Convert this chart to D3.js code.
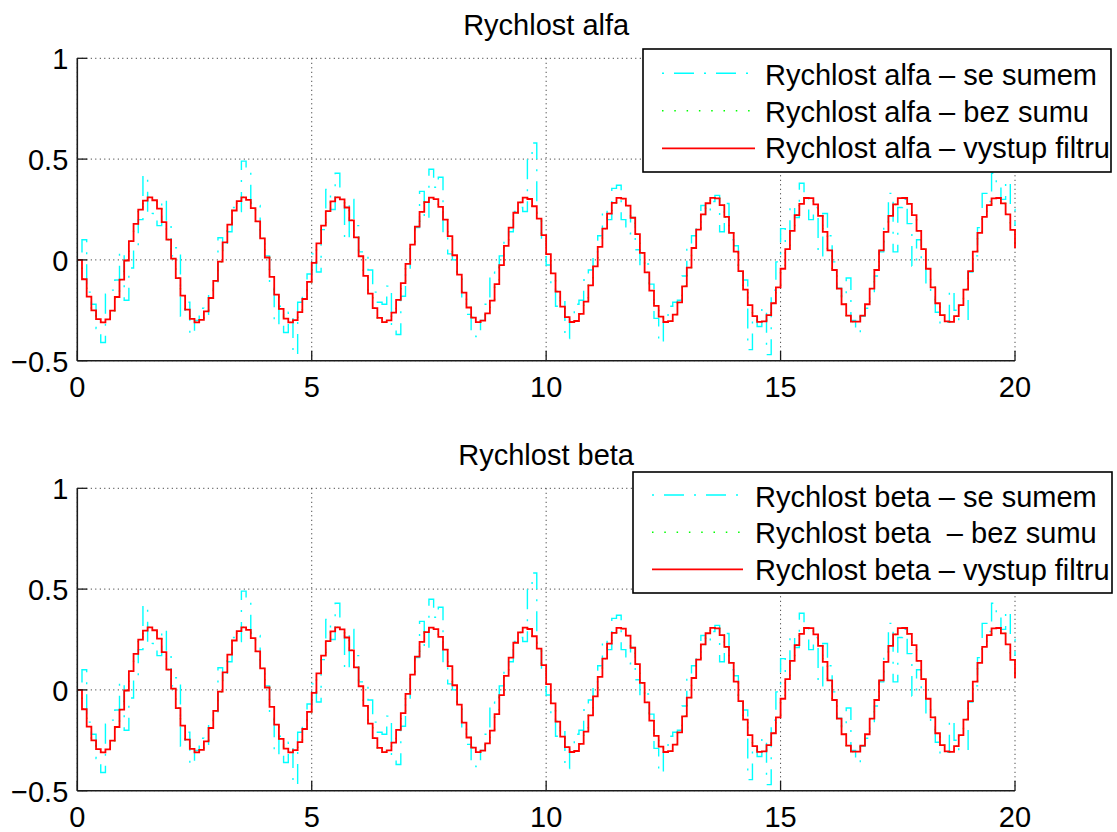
<!DOCTYPE html>
<html>
<head>
<meta charset="utf-8">
<script src="https://cdn.jsdelivr.net/npm/d3@7"></script>
<style>
  body { margin: 0; background: #fff; }
  svg text { font-family: "Liberation Sans", Arial, Helvetica, sans-serif; fill: #000; }
</style>
</head>
<body>
<svg id="fig" width="1117" height="832"></svg>
<script>
// sampling of the stairs signals
const t0 = 0, dt = 0.1;

const xTicks = [0, 5, 10, 15, 20];
const yTicks = [-0.5, 0, 0.5, 1];
const yTickLabels = ["\u22120.5", "0", "0.5", "1"];

// filter output (red), one value per 0.1 s
const vystupFiltru = [
  0.000, -0.096, -0.182, -0.250, -0.294, -0.310, -0.295, -0.252, -0.184, -0.098,
  -0.003, 0.093, 0.179, 0.249, 0.294, 0.310, 0.296, 0.254, 0.187, 0.101,
  0.006, -0.090, -0.177, -0.247, -0.293, -0.310, -0.297, -0.255, -0.189, -0.104,
  -0.009, 0.087, 0.175, 0.245, 0.292, 0.310, 0.298, 0.257, 0.191, 0.107,
  0.012, -0.084, -0.172, -0.243, -0.291, -0.310, -0.299, -0.259, -0.194, -0.109,
  -0.015, 0.082, 0.170, 0.242, 0.290, 0.310, 0.300, 0.260, 0.196, 0.112,
  0.018, -0.079, -0.167, -0.239, -0.288, -0.309, -0.300, -0.262, -0.198, -0.115,
  -0.020, 0.076, 0.165, 0.238, 0.287, 0.309, 0.301, 0.263, 0.200, 0.118,
  0.023, -0.073, -0.162, -0.236, -0.286, -0.309, -0.301, -0.265, -0.202, -0.120,
  -0.026, 0.070, 0.160, 0.234, 0.285, 0.309, 0.302, 0.266, 0.205, 0.123,
  0.029, -0.067, -0.157, -0.232, -0.284, -0.308, -0.303, -0.268, -0.207, -0.126,
  -0.032, 0.065, 0.155, 0.230, 0.283, 0.308, 0.304, 0.269, 0.209, 0.128,
  0.035, -0.062, -0.152, -0.228, -0.281, -0.308, -0.304, -0.271, -0.211, -0.131,
  -0.038, 0.059, 0.150, 0.226, 0.281, 0.308, 0.305, 0.272, 0.213, 0.134,
  0.041, -0.056, -0.147, -0.224, -0.279, -0.307, -0.305, -0.274, -0.215, -0.136,
  -0.044, 0.053, 0.144, 0.222, 0.278, 0.307, 0.306, 0.275, 0.218, 0.139,
  0.047, -0.050, -0.142, -0.220, -0.276, -0.306, -0.306, -0.276, -0.220, -0.142,
  -0.050, 0.047, 0.139, 0.218, 0.275, 0.306, 0.307, 0.278, 0.222, 0.144,
  0.053, -0.044, -0.136, -0.215, -0.274, -0.305, -0.307, -0.279, -0.224, -0.147,
  -0.056, 0.041, 0.134, 0.213, 0.272, 0.305, 0.307, 0.280, 0.226, 0.149,
  0.058
];

// noisy measurement (cyan), estimated from the visible dash pieces
const seSumem = [
  0.00, 0.10, -0.16, -0.22, -0.34, -0.41, -0.17, -0.15, -0.10, 0.04,
  -0.20, -0.04, 0.06, 0.20, 0.42, 0.22, 0.23, 0.17, 0.30, 0.19,
  0.02, 0.06, -0.28, -0.21, -0.37, -0.30, -0.24, -0.27, -0.16, -0.12,
  0.11, 0.05, 0.14, 0.26, 0.24, 0.49, 0.45, 0.28, 0.27, 0.10,
  0.02, -0.14, -0.32, -0.23, -0.36, -0.26, -0.47, -0.21, -0.18, -0.07,
  0.03, -0.06, 0.15, 0.35, 0.25, 0.43, 0.28, 0.10, 0.30, 0.17,
  0.04, 0.03, -0.05, -0.16, -0.21, -0.22, -0.13, -0.33, -0.37, -0.18,
  -0.05, 0.06, 0.16, 0.34, 0.20, 0.45, 0.36, 0.41, 0.12, 0.03,
  0.00, -0.06, -0.21, -0.27, -0.36, -0.38, -0.30, -0.22, -0.06, -0.07,
  0.02, 0.10, 0.14, 0.24, 0.26, 0.24, 0.50, 0.58, 0.20, 0.10,
  -0.025, -0.12, -0.23, -0.18, -0.39, -0.27, -0.22, -0.20, -0.10, -0.05,
  0.04, 0.12, 0.25, 0.20, 0.355, 0.37, 0.20, 0.13, 0.21, 0.05,
  -0.03, -0.02, -0.12, -0.29, -0.41, -0.30, -0.23, -0.21, -0.20, -0.08,
  0.06, 0.12, 0.16, 0.27, 0.22, 0.29, 0.32, 0.14, 0.28, 0.10,
  0.07, -0.04, -0.10, -0.445, -0.28, -0.33, -0.24, -0.47, -0.15, -0.01,
  0.155, 0.08, 0.27, 0.21, 0.38, 0.33, 0.20, 0.26, 0.02, 0.23,
  0.12, -0.01, -0.14, -0.19, -0.09, -0.30, -0.36, -0.28, -0.24, -0.18,
  -0.08, 0.04, 0.18, 0.33, 0.04, 0.26, 0.30, 0.18, -0.03, 0.10,
  -0.01, -0.14, -0.17, -0.26, -0.32, -0.31, -0.15, -0.25, -0.30, -0.30,
  -0.06, 0.02, 0.16, 0.33, 0.29, 0.43, 0.36, 0.30, 0.39, 0.25,
  0.17
];

// noise-free signal (green dotted) lies under the filter output in the picture
const bezSumu = vystupFiltru;

const panels = [
  {
    title: "Rychlost alfa",
    labels: ["Rychlost alfa \u2013 se sumem", "Rychlost alfa \u2013 bez sumu", "Rychlost alfa \u2013 vystup filtru"],
    top: 58.3, bottom: 360.7, titleY: 35,
    leg: { x: 643, y: 49, w: 468, h: 123, x1: 662, x2: 755, tx: 765, ly: [24.3, 61.7, 99.3], ty: [36, 72.7, 109.3] }
  },
  {
    title: "Rychlost beta",
    labels: ["Rychlost beta \u2013 se sumem", "Rychlost beta  \u2013 bez sumu", "Rychlost beta \u2013 vystup filtru"],
    top: 488.3, bottom: 790.7, titleY: 465,
    leg: { x: 633, y: 472, w: 479, h: 121, x1: 652, x2: 743, tx: 755, ly: [23, 60.3, 97.3], ty: [34.7, 70.7, 108] }
  }
];

const svg = d3.select("#fig");
const FS = "29px";
const x = d3.scaleLinear().domain([0, 20]).range([77.3, 1015]);

const styles = [
  { color: "#00ffff", width: 1.4, dash: "2,10,20,10", data: seSumem },
  { color: "#00ff00", width: 1.4, dash: "1.5,10.8", data: bezSumu },
  { color: "#ff0000", width: 1.8, dash: null, data: vystupFiltru }
];

panels.forEach(p => {
  const y = d3.scaleLinear().domain([-0.5, 1]).range([p.bottom, p.top]);
  const g = svg.append("g");

  // grid
  g.selectAll("line.gx").data(xTicks).join("line")
    .attr("x1", d => x(d)).attr("x2", d => x(d))
    .attr("y1", p.top).attr("y2", p.bottom)
    .attr("stroke", "#222").attr("stroke-width", 1).attr("stroke-dasharray", "1,3.5");
  g.selectAll("line.gy").data(yTicks).join("line")
    .attr("x1", x(0)).attr("x2", x(20))
    .attr("y1", d => y(d)).attr("y2", d => y(d))
    .attr("stroke", "#222").attr("stroke-width", 1).attr("stroke-dasharray", "1,3.5");

  // series as stairs
  const line = d3.line()
    .x((d, i) => x(t0 + i * dt))
    .y(d => y(d))
    .curve(d3.curveStepAfter);
  styles.forEach(s => {
    g.append("path").datum(s.data)
      .attr("d", line)
      .attr("fill", "none")
      .attr("stroke", s.color)
      .attr("stroke-width", s.width)
      .attr("stroke-dasharray", s.dash);
  });

  // axes (left + bottom only, ticks inward)
  g.append("line").attr("x1", x(0)).attr("x2", x(0)).attr("y1", p.top).attr("y2", p.bottom)
    .attr("stroke", "#1a1a1a").attr("stroke-width", 1.6);
  g.append("line").attr("x1", x(0)).attr("x2", x(20)).attr("y1", p.bottom).attr("y2", p.bottom)
    .attr("stroke", "#1a1a1a").attr("stroke-width", 1.6);
  g.selectAll("line.ty").data(yTicks).join("line")
    .attr("x1", x(0)).attr("x2", x(0) + 10)
    .attr("y1", d => y(d)).attr("y2", d => y(d))
    .attr("stroke", "#1a1a1a").attr("stroke-width", 1.3);
  g.selectAll("line.tx").data(xTicks).join("line")
    .attr("x1", d => x(d)).attr("x2", d => x(d))
    .attr("y1", p.bottom).attr("y2", p.bottom - 10)
    .attr("stroke", "#1a1a1a").attr("stroke-width", 1.3);

  g.selectAll("text.yl").data(yTicks).join("text")
    .attr("x", x(0) - 9).attr("y", d => y(d) + 11)
    .attr("text-anchor", "end").style("font-size", FS)
    .text((d, i) => yTickLabels[i]);
  g.selectAll("text.xl").data(xTicks).join("text")
    .attr("x", d => x(d)).attr("y", p.bottom + 36)
    .attr("text-anchor", "middle").style("font-size", FS)
    .text(d => d);

  g.append("text").attr("x", (x(0) + x(20)) / 2).attr("y", p.titleY)
    .attr("text-anchor", "middle").style("font-size", FS).text(p.title);

  // legend
  const L = p.leg;
  const lg = g.append("g").attr("transform", `translate(${L.x},${L.y})`);
  lg.append("rect").attr("width", L.w).attr("height", L.h)
    .attr("fill", "#fff").attr("stroke", "#000").attr("stroke-width", 1.6);
  styles.forEach((s, i) => {
    lg.append("line")
      .attr("x1", L.x1 - L.x).attr("x2", L.x2 - L.x)
      .attr("y1", L.ly[i]).attr("y2", L.ly[i])
      .attr("stroke", s.color).attr("stroke-width", s.width)
      .attr("stroke-dasharray", s.dash);
    lg.append("text").attr("x", L.tx - L.x).attr("y", L.ty[i])
      .style("font-size", FS).style("white-space", "pre")
      .text(p.labels[i]);
  });
});
</script>
</body>
</html>
